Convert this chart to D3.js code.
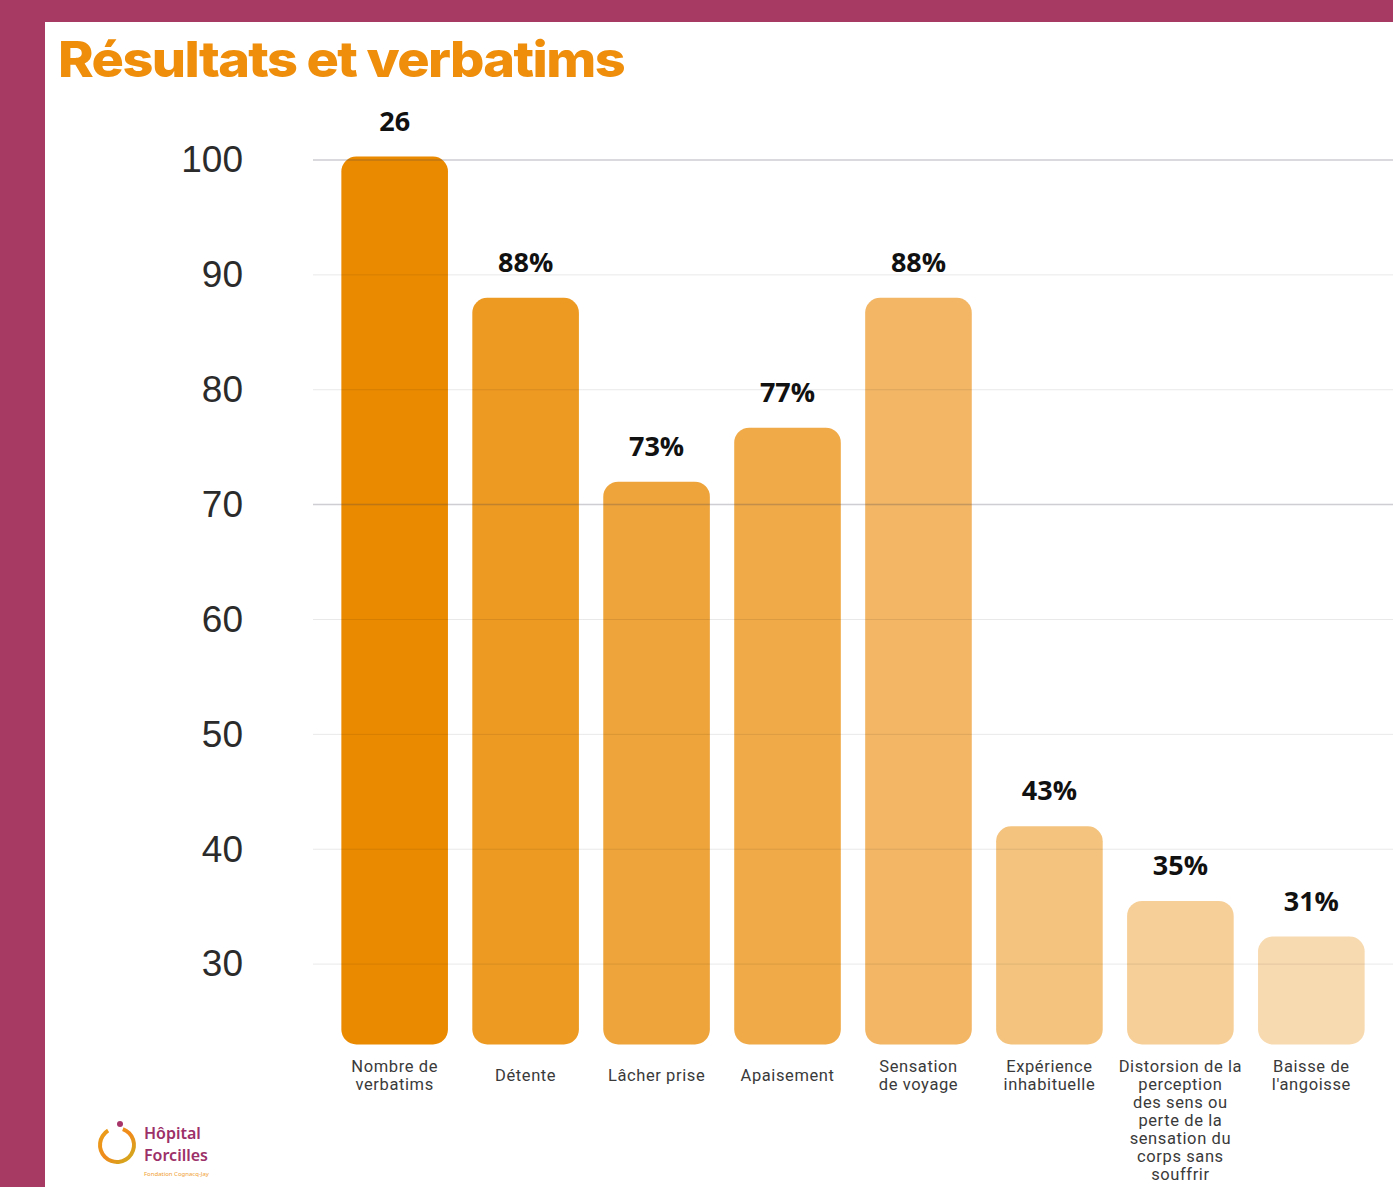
<!DOCTYPE html>
<html>
<head>
<meta charset="utf-8">
<script src="https://cdn.jsdelivr.net/npm/d3@7"></script>
<style>
  body { margin: 0; background: #a63a62; }
  svg { display: block; }
</style>
</head>
<body>
<svg width="1393" height="1187"></svg>
<script>
// data
var categories = ["Nombre de verbatims", "Détente", "Lâcher prise", "Apaisement",
  "Sensation de voyage", "Expérience inhabituelle",
  "Distorsion de la perception des sens ou perte de la sensation du corps sans souffrir",
  "Baisse de l'angoisse"];
var categoryLines = [
  ["Nombre de", "verbatims"],
  ["Détente"],
  ["Lâcher prise"],
  ["Apaisement"],
  ["Sensation", "de voyage"],
  ["Expérience", "inhabituelle"],
  ["Distorsion de la", "perception", "des sens ou", "perte de la", "sensation du", "corps sans", "souffrir"],
  ["Baisse de", "l'angoisse"]
];
var values = [100.3, 88, 72, 76.7, 88, 42, 35.5, 32.4];
var valueLabels = ["26", "88%", "73%", "77%", "88%", "43%", "35%", "31%"];
var yTicks = [30, 40, 50, 60, 70, 80, 90, 100];
var barColors = ["#ea8a00", "#ed9a22", "#eea43a", "#f0aa48", "#f2b665", "#f4c47f", "#f6cf98", "#f8dab0"];

var svg = d3.select("svg"),
    width = +svg.attr("width"),
    height = +svg.attr("height");

// white panel inside the magenta frame
svg.append("rect")
    .attr("x", 45).attr("y", 22)
    .attr("width", width - 45).attr("height", height - 22)
    .attr("fill", "#fff");

// title
svg.append("text")
    .attr("x", 58).attr("y", 77)
    .attr("font-family", "Inter, sans-serif")
    .attr("font-weight", 800)
    .attr("font-size", 50)
    .attr("letter-spacing", -1.5)
    .attr("textLength", 566)
    .attr("lengthAdjust", "spacingAndGlyphs")
    .attr("fill", "#ef8e0b")
    .text("Résultats et verbatims");

// scales
var x = d3.scaleBand()
    .domain(categories)
    .range([317, 1389])
    .padding(0.186);

var y = d3.scaleLinear()
    .domain([23, 100])
    .range([1044.5, 160]);

// y axis labels
var yAxis = svg.append("g")
    .attr("transform", "translate(313,0)")
    .call(d3.axisLeft(y).tickValues(yTicks).tickSize(0).tickPadding(70));
yAxis.select(".domain").remove();
yAxis.selectAll("text")
    .attr("font-family", "Liberation Sans, Arial, sans-serif")
    .attr("font-size", 37)
    .attr("fill", "#2b2b2b");

// bars
svg.append("g")
  .selectAll("rect")
  .data(values)
  .enter().append("rect")
    .attr("x", function(d, i) { return x(categories[i]); })
    .attr("y", function(d) { return y(d); })
    .attr("width", x.bandwidth())
    .attr("height", function(d) { return y(23) - y(d); })
    .attr("rx", 15)
    .attr("fill", function(d, i) { return barColors[i]; });

// gridlines sit over the bars, faint
svg.append("g")
  .selectAll("line")
  .data(yTicks)
  .enter().append("line")
    .attr("x1", 313).attr("x2", width)
    .attr("y1", function(d) { return y(d); })
    .attr("y2", function(d) { return y(d); })
    .attr("stroke", function(d) { return (d == 70 || d == 100) ? "rgba(60,60,80,0.25)" : "rgba(0,0,0,0.09)"; })
    .attr("stroke-width", function(d) { return (d == 70 || d == 100) ? 1.5 : 1; });

// value labels
svg.append("g")
  .selectAll("text")
  .data(values)
  .enter().append("text")
    .attr("x", function(d, i) { return x(categories[i]) + x.bandwidth() / 2; })
    .attr("y", function(d) { return y(d) - 26; })
    .attr("text-anchor", "middle")
    .attr("font-family", "Open Sans, sans-serif")
    .attr("font-weight", 700)
    .attr("font-size", 27)
    .attr("fill", "#111")
    .text(function(d, i) { return valueLabels[i]; });

// category labels
var cat = svg.append("g")
  .selectAll("text")
  .data(categoryLines)
  .enter().append("text")
    .attr("text-anchor", "middle")
    .attr("font-family", "Roboto, sans-serif")
    .attr("font-size", 16.5)
    .attr("letter-spacing", 0.6)
    .attr("fill", "#3a3a3a")
    .attr("transform", function(d, i) {
      var shift = d.length == 1 ? 9 : 0;
      return "translate(" + (x(categories[i]) + x.bandwidth() / 2) + "," + (1072 + shift) + ")";
    });
cat.selectAll("tspan")
  .data(function(d) { return d; })
  .enter().append("tspan")
    .attr("x", 0)
    .attr("dy", function(d, i) { return i == 0 ? 0 : 18; })
    .text(function(d) { return d; });

// logo
var logo = svg.append("g").attr("transform", "translate(117,1145)");
var grad = svg.append("defs").append("linearGradient")
    .attr("id", "logoGrad").attr("x1", 0).attr("y1", 0).attr("x2", 1).attr("y2", 1);
grad.append("stop").attr("offset", "0%").attr("stop-color", "#e8a317");
grad.append("stop").attr("offset", "50%").attr("stop-color", "#f08a1c");
grad.append("stop").attr("offset", "100%").attr("stop-color", "#c9b21e");
var arc = d3.arc().innerRadius(15).outerRadius(19);
logo.append("path")
    .attr("d", arc({ startAngle: 0.35, endAngle: 2 * Math.PI - 0.55 }))
    .attr("fill", "url(#logoGrad)");
logo.append("circle")
    .attr("cx", 3).attr("cy", -21).attr("r", 3)
    .attr("fill", "#a8356a");
svg.append("text")
    .attr("x", 144).attr("y", 1139)
    .attr("font-family", "Noto Sans, sans-serif")
    .attr("font-weight", 600)
    .attr("font-size", 16)
    .attr("fill", "#9c3068")
    .text("Hôpital");
svg.append("text")
    .attr("x", 144).attr("y", 1161)
    .attr("font-family", "Noto Sans, sans-serif")
    .attr("font-weight", 600)
    .attr("font-size", 16)
    .attr("fill", "#9c3068")
    .text("Forcilles");
svg.append("text")
    .attr("x", 144).attr("y", 1176)
    .attr("font-family", "Noto Sans, sans-serif")
    .attr("font-size", 6)
    .attr("fill", "#f0a030")
    .text("Fondation Cognacq-Jay");
</script>
</body>
</html>
